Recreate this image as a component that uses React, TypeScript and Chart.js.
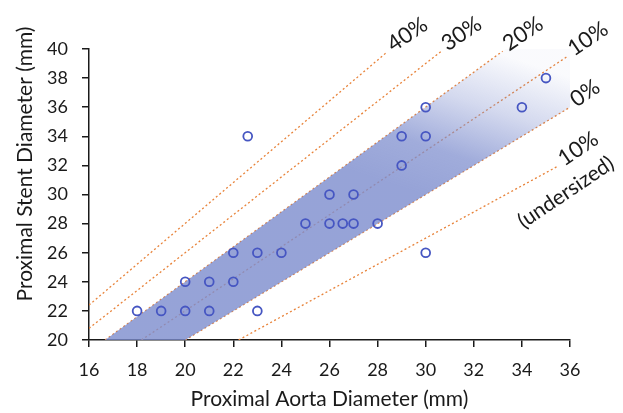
import React, { useEffect, useRef } from "react";
import { Chart, registerables } from "chart.js";

Chart.register(...registerables);

// Case data: proximal aorta diameter vs proximal stent diameter (mm)
const aortaDiameter = [18, 19, 20, 21, 23, 20, 21, 22, 22, 23, 24, 30, 25, 26, 26.55, 27, 28, 26, 27, 29, 29, 30, 22.6, 30, 34, 35];
const stentDiameter = [22, 22, 22, 22, 22, 24, 24, 24, 26, 26, 26, 26, 28, 28, 28, 28, 28, 30, 30, 32, 34, 34, 34, 36, 36, 38];

// Oversizing guide lines (start / end points)
const guideLabels = ["40%", "30%", "20%", "10%", "0%", "10%"];
const guideSubLabels = ["", "", "", "", "", "(undersized)"];
const guideStartX = [16, 16, 16.67, 18.18, 20, 22.22];
const guideStartY = [22.4, 20.8, 20, 20, 20, 20];
const guideEndX = [28.4, 30.65, 33.2, 35.9, 36, 35.5];
const guideEndY = [39.8, 39.85, 39.85, 39.5, 36, 31.95];

// Recommended oversizing band (0%..20%) outline
const bandX = [16.67, 20, 38.2, 38.2, 33.33];
const bandY = [20, 20, 38.2, 40, 40];

// Axis ranges
const xMin = 16, xMax = 36, xStep = 2;
const yMin = 20, yMax = 40, yStep = 2;

const xTitle = "Proximal Aorta Diameter (mm)";
const yTitle = "Proximal Stent Diameter (mm)";

const TEXT = "#1a1a1a";
const FONT = "Lato";

const guideLabelPlugin = {
  id: "guideLabels",
  afterDatasetsDraw(chart: any) {
    const { ctx, scales } = chart;
    const sx = scales.x, sy = scales.y;
    ctx.save();
    ctx.fillStyle = TEXT;
    ctx.font = `22px ${FONT}`;
    const rot = (-34 * Math.PI) / 180;
    guideLabels.forEach((t, i) => {
      const x1 = sx.getPixelForValue(guideEndX[i]);
      const y1 = sy.getPixelForValue(guideEndY[i]);
      ctx.save();
      ctx.translate(x1, y1);
      ctx.rotate(rot);
      ctx.textAlign = "left";
      ctx.textBaseline = "alphabetic";
      ctx.fillText(t, 5, 4);
      if (guideSubLabels[i]) {
        ctx.font = `21px ${FONT}`;
        ctx.textAlign = "center";
        ctx.fillText(guideSubLabels[i], -8, 33);
      }
      ctx.restore();
    });
    ctx.restore();
  },
};

const yTitlePlugin = {
  id: "yTitle",
  afterDraw(chart: any) {
    const { ctx } = chart;
    ctx.save();
    ctx.fillStyle = TEXT;
    ctx.font = `21px ${FONT}`;
    ctx.textAlign = "center";
    ctx.textBaseline = "middle";
    ctx.translate(25, 164);
    ctx.rotate(-Math.PI / 2);
    ctx.fillText(yTitle, 0, 0);
    ctx.restore();
  },
};

export default function App() {
  const ref = useRef<HTMLCanvasElement | null>(null);

  useEffect(() => {
    if (!ref.current) return;
    const points = aortaDiameter.map((a, i) => ({ x: a, y: stentDiameter[i] }));
    const band = bandX.map((x, i) => ({ x, y: bandY[i] }));

    const bandFill = (c: any) => {
      const chart = c.chart;
      const { ctx, chartArea, scales } = chart;
      if (!chartArea || !scales.x || !scales.y) return "rgba(124,140,205,0.8)";
      const g = ctx.createLinearGradient(
        scales.x.getPixelForValue(30.6),
        scales.y.getPixelForValue(29.6),
        scales.x.getPixelForValue(32.7),
        scales.y.getPixelForValue(39.9)
      );
      g.addColorStop(0, "rgba(124,140,205,0.8)");
      g.addColorStop(0.3, "rgba(124,140,205,0.72)");
      g.addColorStop(0.65, "rgba(124,140,205,0.33)");
      g.addColorStop(1, "rgba(124,140,205,0.04)");
      return g;
    };

    const guideSets = guideLabels.map((lab, i) => ({
      type: "line" as const,
      label: "guide " + lab + (guideSubLabels[i] ? " " + guideSubLabels[i] : ""),
      data: [
        { x: guideStartX[i], y: guideStartY[i] },
        { x: guideEndX[i], y: guideEndY[i] },
      ],
      borderColor: "#E8833A",
      borderWidth: 1.3,
      borderDash: [2, 2.5],
      pointRadius: 0,
      fill: false,
      tension: 0,
      order: 2,
    }));

    const chart = new Chart(ref.current, {
      type: "scatter",
      data: {
        datasets: [
          {
            type: "scatter",
            label: "cases",
            data: points,
            pointStyle: "circle",
            pointRadius: 4.4,
            pointBorderWidth: 1.8,
            pointBorderColor: "#4656C2",
            pointBackgroundColor: "rgba(0,0,0,0)",
            order: 0,
          } as any,
          {
            type: "line",
            label: "band",
            data: band,
            borderColor: "rgba(0,0,0,0)",
            borderWidth: 0,
            pointRadius: 0,
            fill: "shape",
            backgroundColor: bandFill,
            tension: 0,
            clip: false,
            order: 1,
          } as any,
          ...guideSets,
        ],
      },
      options: {
        animation: false,
        responsive: false,
        layout: { padding: { top: 49, right: 53, left: 0, bottom: 0 } },
        plugins: { legend: { display: false }, tooltip: { enabled: false } },
        scales: {
          x: {
            type: "linear",
            min: xMin,
            max: xMax,
            ticks: { stepSize: xStep, font: { family: FONT, size: 18 }, color: TEXT, padding: 12 },
            grid: { display: true, drawOnChartArea: false, drawTicks: true, tickLength: 7, color: TEXT, lineWidth: 1.5 },
            border: { display: true, color: TEXT, width: 1.5 },
            title: {
              display: true,
              text: xTitle,
              font: { family: FONT, size: 21 },
              color: TEXT,
              padding: { top: 4, bottom: 1 },
            },
            afterFit: (s: any) => {
              s.height = 73;
            },
          },
          y: {
            type: "linear",
            min: yMin,
            max: yMax,
            ticks: { stepSize: yStep, font: { family: FONT, size: 18 }, color: TEXT, padding: 14 },
            grid: { display: true, drawOnChartArea: false, drawTicks: true, tickLength: 7, color: TEXT, lineWidth: 1.5 },
            border: { display: true, color: TEXT, width: 1.5 },
            title: { display: false, text: yTitle },
            afterFit: (s: any) => {
              s.width = 89;
            },
          },
        },
      } as any,
      plugins: [guideLabelPlugin, yTitlePlugin],
    });
    return () => chart.destroy();
  }, []);

  return (
    <div style={{ position: "fixed", left: 0, top: 0, width: 623, height: 413, background: "#fff" }}>
      <canvas ref={ref} width={623} height={413} style={{ width: 623, height: 413, display: "block" }} />
    </div>
  );
}
